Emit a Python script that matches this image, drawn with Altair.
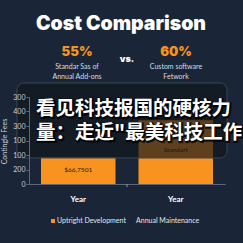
import altair as alt
import pandas as pd

# ---- data ----
categories = ["Bar A", "Bar B"]
x_labels = ["Year", "Year"]
values = [185, 440]
bar_labels = ["$66,7501", "Standart"]
y_tick_values = [0, 100, 200, 300, 400, 500, 600]
y_tick_labels = ["0", "200", "100", "100", "300", "400", "300"]
legend_items = ["Uptright Development", "Annual Maintenance"]
legend_colors = ["#f7931e", "#1a2638"]
title_text = "Cost Comparison"
stat_values = ["55%", "60%"]
stat_sub1 = ["Standar Sas of", "Custom software"]
stat_sub2 = ["Annual Add-ons", "Fetwork"]
overlay_lines = ["看见科技报国的硬核力", "量：走近\"最美科技工作"]

BG = "#1a2638"
ORANGE = "#f7931e"

df = pd.DataFrame({"cat": categories, "value": values, "label": bar_labels,
                   "xl": x_labels})

label_map = "{" + ",".join(f"'{v}':'{l}'" for v, l in zip(y_tick_values, y_tick_labels)) + "}"
xlab_map = "{" + ",".join(f"'{c}':'{l}'" for c, l in zip(categories, x_labels)) + "}"

xscale = alt.Scale(domain=categories, paddingInner=0.236, paddingOuter=0.123)
yscale = alt.Scale(domain=[0, 600], nice=False)

xaxis = alt.Axis(title=None, labelExpr=f"{xlab_map}[datum.value]", labelAngle=0,
                 ticks=False, labelPadding=11, labelColor="#ffffff",
                 labelFontSize=8, labelFontWeight="bold", labelFont="Lato",
                 domainColor="#5d6878", domainWidth=1)
yaxis = alt.Axis(title="Contingle Fees", values=y_tick_values,
                 labelExpr=f"{label_map}['' + datum.value]", grid=False,
                 labelOverlap=False, labelFlush=False, zindex=1,
                 labelColor="#c9cfd8", labelFontSize=7, labelFont="Lato",
                 tickSize=3, tickColor="#5d6878", labelPadding=1,
                 domainColor="#5d6878", titleColor="#c9cfd8",
                 titleFontSize=7, titleFont="Lato", titleFontWeight="normal",
                 titleX=-22, titleY=44, titleAlign="center")

base = alt.Chart(df)

bars = base.mark_bar(color=ORANGE).encode(
    x=alt.X("cat:N", scale=xscale, sort=categories, axis=xaxis),
    y=alt.Y("value:Q", scale=yscale, axis=yaxis),
)

# bar labels at the middle of each bar
bar_text = base.mark_text(fontSize=6.5, font="Lato", color="#2a1a05",
                          baseline="middle").encode(
    x=alt.X("cat:N", scale=xscale, sort=categories, axis=xaxis),
    y=alt.Y("mid:Q", scale=yscale, axis=yaxis),
    text="label:N",
).transform_calculate(mid="datum.value * 0.53")

mid_tick = alt.Chart(pd.DataFrame({"a": [0]})).mark_rule(color="#8a94a3").encode(
    x=alt.value(98), y=alt.value(87), y2=alt.value(90))

# ---- header ----
title = alt.Chart(pd.DataFrame({"t": [title_text]})).mark_text(
    font="Inter", fontWeight=900, fontSize=19.5, color="#ffffff", baseline="middle"
).encode(x=alt.value(92), y=alt.value(24 - 97), text="t:N")

stats_df = pd.DataFrame({"v": stat_values, "s1": stat_sub1, "s2": stat_sub2,
                         "px": [77 - 29, 176 - 29]})
stats = alt.Chart(stats_df).mark_text(
    font="Inter", fontWeight=900, fontSize=13, color=ORANGE, baseline="middle"
).encode(x=alt.X("px:Q", scale=None), y=alt.value(52 - 97), text="v:N")
sub1 = alt.Chart(stats_df).mark_text(
    font="Lato", fontSize=7, color="#d5dae1", baseline="middle"
).encode(x=alt.X("px:Q", scale=None), y=alt.value(67 - 97), text="s1:N")
sub2 = alt.Chart(stats_df).mark_text(
    font="Lato", fontSize=7, color="#d5dae1", baseline="middle"
).encode(x=alt.X("px:Q", scale=None), y=alt.value(77 - 97), text="s2:N")
vs = alt.Chart(pd.DataFrame({"t": ["vs."]})).mark_text(
    font="Inter", fontWeight=900, fontSize=9, color="#ffffff", baseline="middle"
).encode(x=alt.value(127 - 29), y=alt.value(59 - 97), text="t:N")

# ---- legend ----
leg_df = pd.DataFrame({"item": legend_items, "color": legend_colors,
                       "px": [57 - 29, 136 - 29]})
leg_sym = alt.Chart(leg_df).mark_square(size=16, opacity=1).encode(
    x=alt.X("sx:Q", scale=None), y=alt.value(221 - 97),
    color=alt.Color("color:N", scale=None)).transform_calculate(sx="datum.px - 4")
leg_txt = alt.Chart(leg_df).mark_text(
    font="Lato", fontSize=7, color="#e3e7ec", align="left", baseline="middle"
).encode(x=alt.X("px:Q", scale=None), y=alt.value(221 - 97), text="item:N")

# ---- overlay ----
overlay = alt.Chart(pd.DataFrame({"a": [0]})).mark_rect(
    cornerRadius=7, fill="#10151c", fillOpacity=0.66, stroke="#3b4452", strokeWidth=1
).encode(x=alt.value(17 - 29), x2=alt.value(227 - 29),
         y=alt.value(83 - 97), y2=alt.value(158 - 97))

ov_df = pd.DataFrame({"t": overlay_lines, "py": [109 - 97, 133 - 97]})
ov_shadow = alt.Chart(ov_df).mark_text(
    font="Noto Sans CJK SC", fontWeight="bold", fontSize=19.5, align="left",
    baseline="middle", fill="#000000", stroke="#000000", strokeWidth=2.5,
    strokeOpacity=0.7, dx=1, dy=1
).encode(x=alt.value(36 - 29), y=alt.Y("py:Q", scale=None), text="t:N")
ov_text = alt.Chart(ov_df).mark_text(
    font="Noto Sans CJK SC", fontWeight="bold", fontSize=19.5, align="left",
    baseline="middle", color="#ffffff"
).encode(x=alt.value(36 - 29), y=alt.Y("py:Q", scale=None), text="t:N")

chart = alt.layer(
    bars, bar_text, mid_tick, title, stats, sub1, sub2, vs, leg_sym, leg_txt,
    overlay, ov_shadow, ov_text
).properties(
    width=196, height=87,
    autosize=alt.AutoSizeParams(type="none"),
    padding={"left": 29, "top": 97, "right": 18, "bottom": 59},
    background=BG,
).configure_view(stroke=None)

chart.save("out.html", embed_options={"renderer": "svg", "actions": False})
